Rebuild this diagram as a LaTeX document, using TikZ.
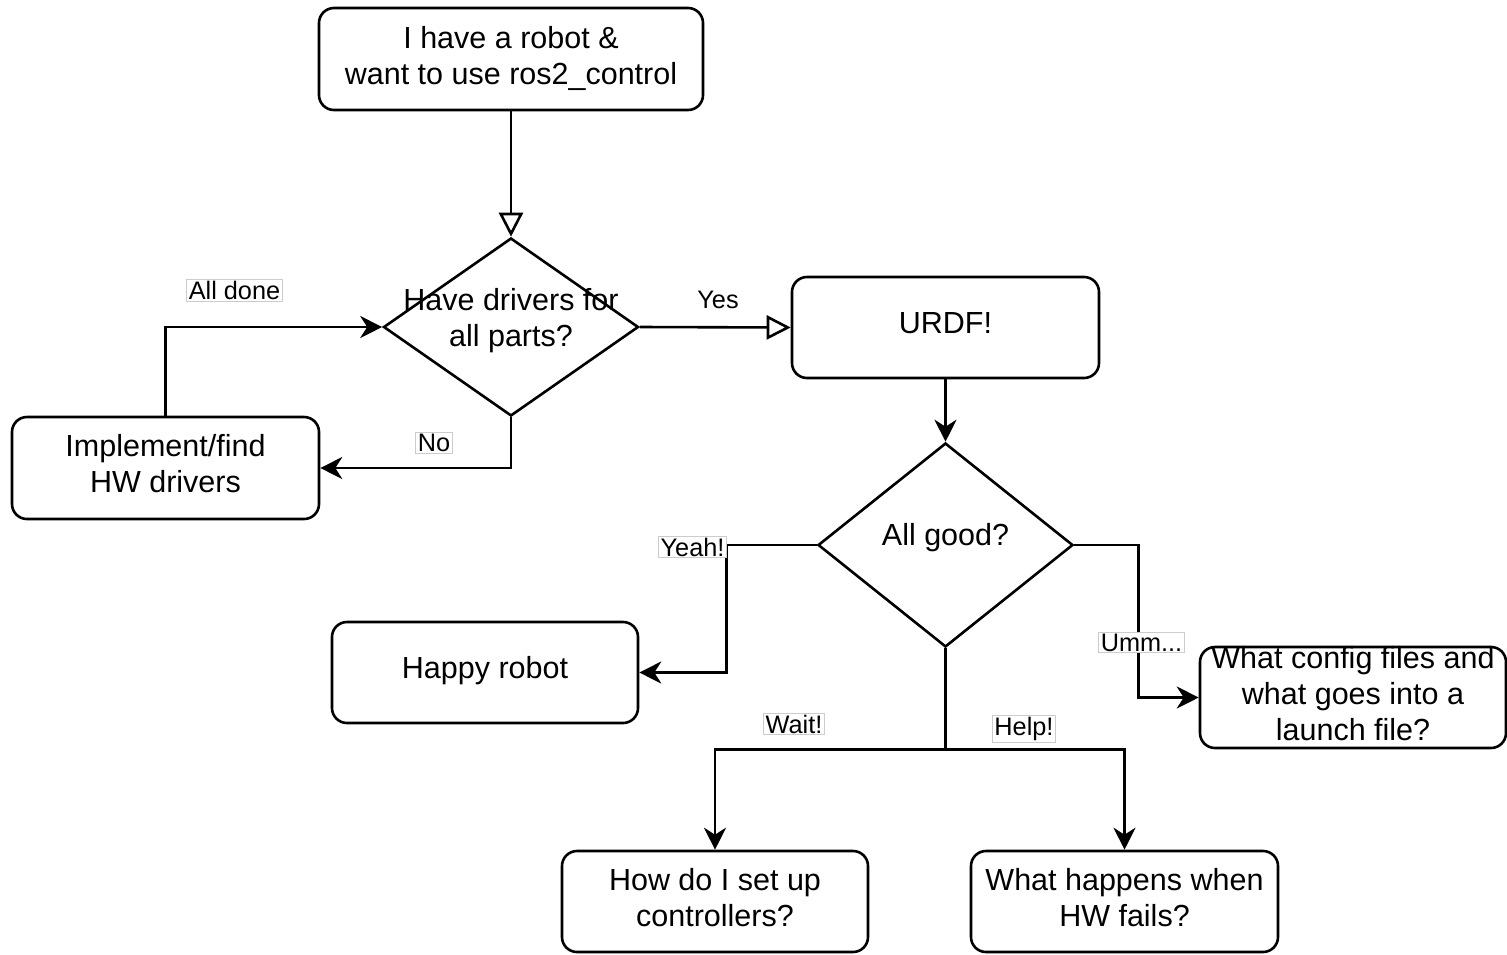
\documentclass[tikz,border=0pt]{standalone}
\usepackage{fontspec}
\setmainfont{Liberation Sans}
\usetikzlibrary{shapes.geometric,arrows.meta}
\begin{document}
\begin{tikzpicture}[x=1pt,y=-1pt,
  every node/.style={font=\fontsize{30.5}{36}\selectfont, align=center},
  box/.style={draw, line width=2.6pt, rounded corners=15pt, minimum width=306pt, minimum height=101pt, inner sep=0pt},
  decision/.style={draw, diamond, line width=2.6pt, minimum width=255pt, inner sep=0pt},
  txt/.style={inner sep=0pt},
  tag/.style={draw=black!20, line width=0.8pt, fill=white, inner xsep=2pt, inner ysep=1.5pt, font=\fontsize{25.3}{28}\selectfont},
  plaintag/.style={inner sep=2pt, font=\fontsize{25.3}{28}\selectfont},
  flow/.style={line width=2.6pt, -{Stealth[length=22pt, width=22pt, inset=7pt]}},
  openflow/.style={line width=2.6pt, -{Triangle[open, length=24pt, width=24pt, fill=white]}}
]
\useasboundingbox (0,0) rectangle (1507,954);

% process boxes
\node[box, minimum width=384pt, minimum height=102pt] (start) at (511,59) {};
\node[box, minimum width=307pt] (urdf) at (945.5,327.5) {};
\node[box, minimum width=307pt, minimum height=102pt] (impl) at (165.5,468) {};
\node[box] (happy) at (485,672.5) {};
\node[box] (cfg) at (1353,697.5) {};
\node[box] (ctl) at (715,901.5) {};
\node[box, minimum width=307pt] (hw) at (1124.5,901.5) {};

% box texts
\node[txt] (startT) at ([yshift=1pt]start.center) {I have a robot \&\\want to use ros2\_control};
\node[txt] (urdfT) at ([yshift=4pt]urdf.center) {URDF!};
\node[txt] (implT) at ([yshift=4pt]impl.center) {Implement/find\\HW drivers};
\node[txt] (happyT) at ([yshift=2pt]happy.center) {Happy robot};
\node[txt] (cfgT) at ([yshift=4pt]cfg.center) {What config files and\\what goes into a\\launch file?};
\node[txt] (ctlT) at ([yshift=4pt]ctl.center) {How do I set up\\controllers?};
\node[txt] (hwT) at ([yshift=4pt]hw.center) {What happens when\\HW fails?};

% decisions
\node[decision, minimum height=178pt] (d1) at (511,327) {};
\node[txt] (d1T) at (511,321) {Have drivers for\\all parts?};
\node[decision, minimum height=204pt] (d2) at (945.5,545) {};
\node[txt] (d2T) at (945.5,538) {All good?};

% connectors
\draw[openflow] (start.south) -- (d1.north);
\draw[openflow] (d1.east) -- (urdf.west);
\draw[flow] (d1.south) |- (impl.east);
\draw[flow] (impl.north) |- (d1.west);
\draw[flow] (urdf.south) -- (d2.north);
\draw[flow] (d2.west) -- ++(-90,0) |- (happy.east);
\draw[flow] (d2.east) -- ++(64,0) |- (cfg.west);
\draw[line width=2.6pt] (d2.south) -- ++(0,101) coordinate (split);
\draw[flow] (split) -| (ctl.north);
\draw[flow] (split) -| (hw.north);

% connector labels
\node[plaintag] (yes) at (718,300) {Yes};
\node[tag] (alldone) at (234.5,290.5) {All done};
\node[tag] (no) at (434,443) {No};
\node[tag] (yeah) at (692.5,547) {Yeah!};
\node[tag] (umm) at (1141.5,642.5) {Umm...};
\node[tag] (wait) at (794,724) {Wait!};
\node[tag] (help) at (1024,729) {Help!};
\end{tikzpicture}
\end{document}
